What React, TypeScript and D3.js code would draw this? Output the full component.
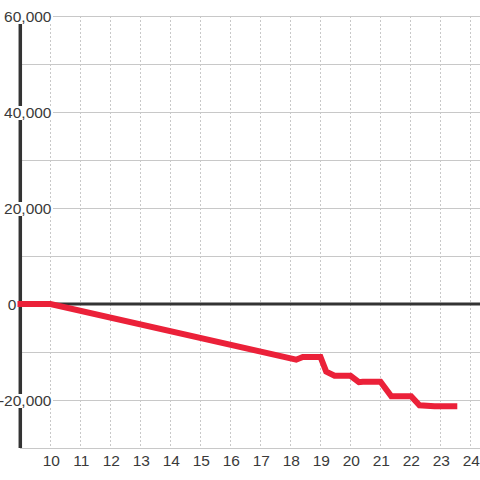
import React from "react";
import * as d3 from "d3";

const hours = [8.9, 10, 18.19, 18.41, 19.0, 19.19, 19.47, 20.0, 20.28, 20.41, 21.0, 21.36, 22.02, 22.3, 22.8, 23.56];
const values = [0, 0, -11600, -11040, -11040, -14100, -14960, -14960, -16290, -16190, -16190, -19230, -19230, -21100, -21290, -21290];
const xTicks = [10, 11, 12, 13, 14, 15, 16, 17, 18, 19, 20, 21, 22, 23, 24];
const yGrid = [60000, 50000, 40000, 30000, 20000, 10000, 0, -10000, -20000, -30000];
const yLabels = [60000, 40000, 20000, 0, -20000];

const W = 480;
const H = 480;

export default function App() {
  const x = d3.scaleLinear().domain([9, 24.317]).range([20.5, 480]);
  const y = d3.scaleLinear().domain([60000, -30000]).range([16, 448]);
  const fmt = (v: number) => d3.format(",")(v).replace("−", "-");
  const line = d3
    .line<number>()
    .x((_, i) => x(hours[i]))
    .y((d) => y(d));
  const fontFamily = "'Liberation Sans', Arial, sans-serif";
  const fs = 15.5;

  return (
    <svg
      width={W}
      height={H}
      style={{ position: "absolute", left: 0, top: 0, background: "#fff" }}
    >
      {xTicks.map((t) => (
        <line
          key={"vx" + t}
          x1={x(t)}
          x2={x(t)}
          y1={y(60000)}
          y2={y(-30000)}
          stroke="#c8c8c8"
          strokeWidth={1}
          strokeDasharray="2,2"
        />
      ))}
      {yGrid.map((v) => (
        <line
          key={"hy" + v}
          x1={20}
          x2={W}
          y1={Math.round(y(v)) + 0.5}
          y2={Math.round(y(v)) + 0.5}
          stroke="#c8c8c8"
          strokeWidth={1}
        />
      ))}
      <line x1={20} x2={W} y1={y(0)} y2={y(0)} stroke="#333" strokeWidth={3} />
      <line x1={20.3} x2={20.3} y1={y(60000)} y2={y(-30000)} stroke="#333" strokeWidth={3.5} />
      {yLabels.map((v) =>
        v === 0 ? (
          <text
            key={"yl" + v}
            x={12}
            y={y(v) + 5.5}
            textAnchor="middle"
            fontSize={fs}
            fontFamily={fontFamily}
            fill="#3a3a3a"
          >
            {fmt(v)}
          </text>
        ) : (
          <g key={"yl" + v}>
            <rect x={2} y={y(v) - 6} width={51} height={14} fill="#fff" />
            <text
              x={51.5}
              y={y(v) + 5.5}
              textAnchor="end"
              fontSize={fs}
              fontFamily={fontFamily}
              fill="#3a3a3a"
            >
              {fmt(v)}
            </text>
          </g>
        )
      )}
      {xTicks.map((t) => (
        <text
          key={"xl" + t}
          x={x(t) + 0.8}
          y={466}
          textAnchor="middle"
          fontSize={fs}
          fontFamily={fontFamily}
          fill="#3a3a3a"
        >
          {t}
        </text>
      ))}
      <path
        d={line(values) || ""}
        fill="none"
        stroke="#eb2139"
        strokeWidth={6}
        strokeLinejoin="miter"
        strokeLinecap="butt"
      />
    </svg>
  );
}
